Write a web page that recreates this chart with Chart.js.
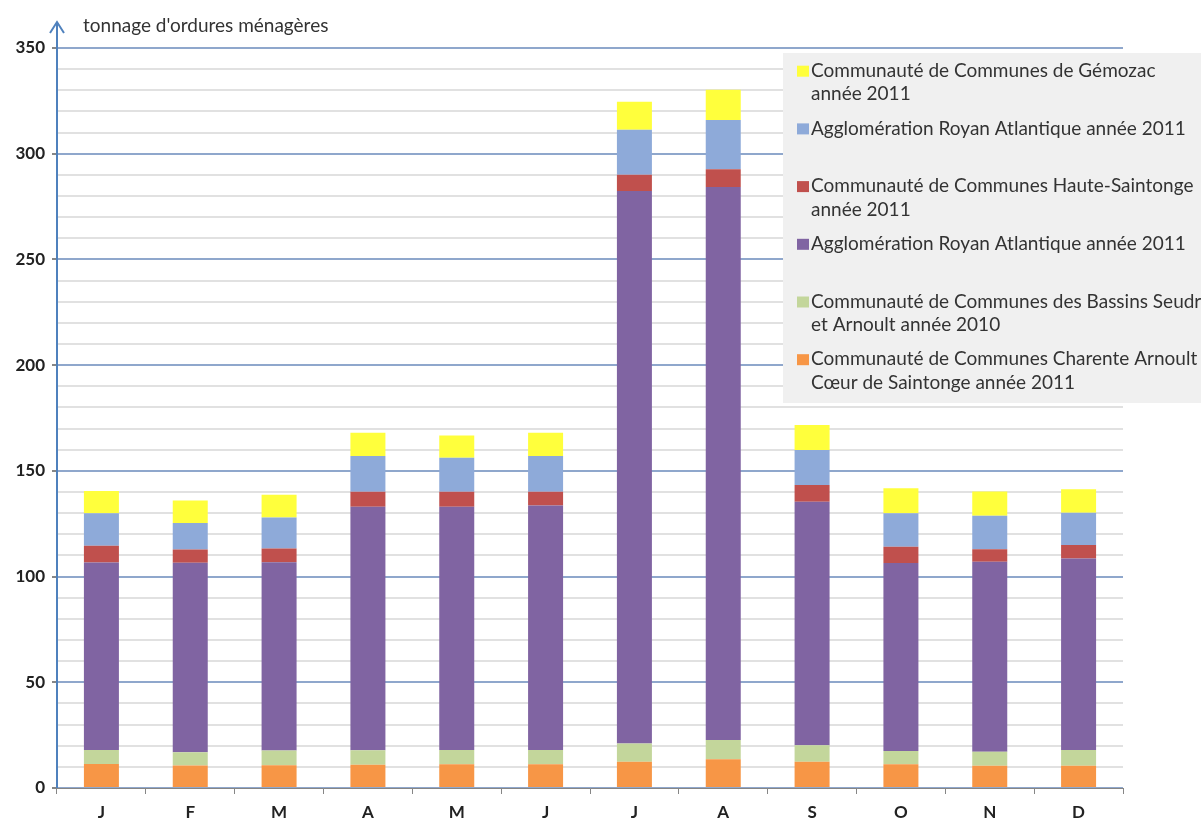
<!DOCTYPE html>
<html lang="fr">
<head>
<meta charset="utf-8">
<title>Tonnage d'ordures ménagères</title>
<script src="https://cdn.jsdelivr.net/npm/chart.js@4"></script>
<style>
	html, body { margin: 0; padding: 0; background: #fff; }
	#wrap { width: 1201px; height: 820px; position: relative; }
</style>
</head>
<body>
<div id="wrap"><canvas id="tonnageChart"></canvas></div>
<script>
// months
var mois = ['J','F','M','A','M','J','J','A','S','O','N','D'];

// tonnes par collectivité, du bas de la pile vers le haut
var charenteArnoult = [11.3, 10.6, 10.8, 11.0, 11.2, 11.2, 12.4, 13.6, 12.4, 11.2, 10.5, 10.5];
var bassinsSeudre   = [6.7, 6.3, 6.9, 6.9, 6.8, 6.8, 8.7, 9.1, 7.8, 6.3, 6.7, 7.5];
var royanViolet     = [88.7, 89.6, 89.1, 115.1, 115.0, 115.6, 261.3, 261.5, 115.2, 88.9, 89.8, 90.5];
var hauteSaintonge  = [7.9, 6.3, 6.5, 7.1, 7.1, 6.5, 7.6, 8.5, 7.9, 7.7, 5.9, 6.4];
var royanBleu       = [15.4, 12.5, 14.6, 16.9, 16.1, 16.9, 21.3, 23.3, 16.6, 15.8, 15.9, 15.3];
var gemozac         = [10.5, 10.7, 10.8, 11.0, 10.5, 11.0, 13.3, 14.2, 11.8, 11.9, 11.4, 11.1];

var libelles = [
	['Communauté de Communes Charente Arnoult', 'Cœur de Saintonge année 2011'],
	['Communauté de Communes des Bassins Seudre', 'et Arnoult année 2010'],
	['Agglomération Royan Atlantique année 2011'],
	['Communauté de Communes Haute-Saintonge', 'année 2011'],
	['Agglomération Royan Atlantique année 2011'],
	['Communauté de Communes de Gémozac', 'année 2011']
];
var couleurs = ['#f79646', '#c3d69b', '#8064a2', '#c0504d', '#8eaad9', '#ffff3c'];
var series = [charenteArnoult, bassinsSeudre, royanViolet, hauteSaintonge, royanBleu, gemozac];

var titreAxe = "tonnage d'ordures ménagères";
var police = 'Lato, "Open Sans", sans-serif';

var datasets = series.map(function(d, i){
	return {
		label: libelles[i],
		data: d,
		backgroundColor: couleurs[i],
		borderWidth: 0,
		barPercentage: 0.394,
		categoryPercentage: 1
	};
});

// axe vertical avec flèche, titre et légende encadrée
var decor = {
	id: 'decor',
	afterDraw: function(chart){
		var c = chart.ctx, a = chart.chartArea;
		var x0 = a.left, yb = a.bottom;
		c.save();
		c.strokeStyle = '#4f81bd';
		c.lineWidth = 2;
		c.beginPath();
		c.moveTo(x0, yb);
		c.lineTo(x0, 22);
		c.stroke();
		c.beginPath();
		c.moveTo(x0 - 7, 33);
		c.lineTo(x0, 22);
		c.lineTo(x0 + 7, 33);
		c.stroke();

		c.fillStyle = '#333';
		c.font = '19px ' + police;
		c.textBaseline = 'middle';
		c.textAlign = 'left';
		c.fillText(titreAxe, 83, 26);

		// légende
		c.fillStyle = '#f0f0f0';
		c.fillRect(783, 53, 430, 350);
		c.font = '19px ' + police;
		var ds = chart.data.datasets;
		for (var k = 0; k < ds.length; k++) {
			var d = ds[ds.length - 1 - k];
			var y = 70.7 + k * 57.7;
			c.fillStyle = d.backgroundColor;
			c.fillRect(797, y - 5, 12, 11);
			c.fillStyle = '#333';
			for (var l = 0; l < d.label.length; l++) {
				c.fillText(d.label[l], 811, y + l * 23.6);
			}
		}
		c.restore();
	}
};

new Chart(document.getElementById('tonnageChart'), {
	type: 'bar',
	data: { labels: mois, datasets: datasets },
	options: {
		responsive: true,
		maintainAspectRatio: false,
		animation: false,
		layout: { padding: { top: 48, right: 78, left: 0, bottom: 0 } },
		plugins: { legend: { display: false }, tooltip: { enabled: false } },
		scales: {
			x: {
				stacked: true,
				grid: { drawOnChartArea: false, tickLength: 6, tickColor: '#868686', offset: true },
				border: { color: '#868686', width: 1 },
				ticks: { color: '#222', padding: 8, font: { family: police, size: 17, weight: 'bold' } },
				afterFit: function(s){ s.height = 32; }
			},
			y: {
				stacked: true,
				min: 0,
				max: 350,
				ticks: {
					stepSize: 10,
					autoSkip: false,
					color: '#222',
					padding: 7,
					font: { family: police, size: 17, weight: 'bold' },
					callback: function(v){ return v % 50 === 0 ? v : ''; }
				},
				grid: {
					tickLength: 5,
					lineWidth: 2,
					color: function(ctx){ return ctx.tick && ctx.tick.value % 50 === 0 ? '#8fa7cc' : '#e1e1e1'; },
					tickColor: function(ctx){ return ctx.tick && ctx.tick.value % 50 === 0 ? '#868686' : 'rgba(0,0,0,0)'; }
				},
				border: { display: false },
				afterFit: function(s){ s.width = 57; }
			}
		}
	},
	plugins: [decor]
});
</script>
</body>
</html>
